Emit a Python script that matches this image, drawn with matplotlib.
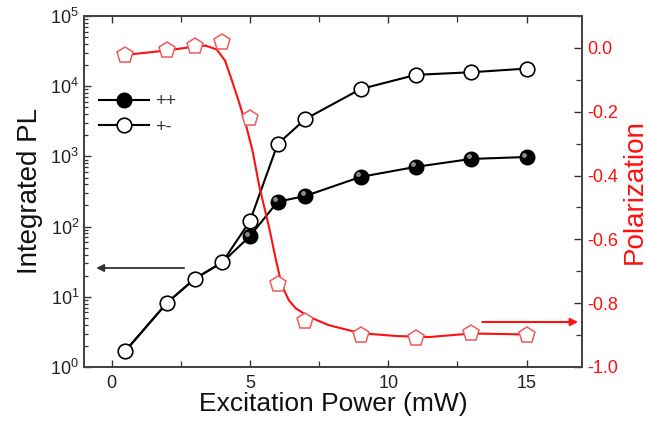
import matplotlib
matplotlib.use('Agg')
import matplotlib.pyplot as plt
import matplotlib.transforms as mtransforms
from matplotlib.lines import Line2D
from matplotlib.ticker import MultipleLocator, LogLocator, NullFormatter

plt.rcParams['font.family'] = ['Liberation Sans', 'DejaVu Sans']
plt.rcParams['mathtext.default'] = 'regular'

# ---- data ----
power = [0.5, 2, 3, 4, 5, 6, 7, 9, 11, 13, 15]
pl_pp = [1.7, 8.2, 18, 31, 73, 226, 273, 510, 710, 920, 980]
pl_pm = [1.7, 8.2, 18, 31, 120, 1500, 3400, 9100, 14500, 15800, 17800]
polarization = [-0.022, -0.008, 0.005, 0.018, -0.22, -0.74, -0.857,
                -0.90, -0.91, -0.894, -0.899]
# fitted polarization curve
fit_power = [0.5, 2, 3, 3.4, 3.8, 4.1, 4.3, 4.6, 4.85, 5.1, 5.33, 5.7,
             5.95, 6.15, 6.4, 6.65, 7.0, 7.25, 7.85, 9.0, 10.3, 11.5, 13, 15]
fit_pol = [-0.022, -0.008, 0.004, 0.007, -0.005, -0.04, -0.09, -0.169,
           -0.24, -0.325, -0.431, -0.566, -0.669, -0.744, -0.79, -0.816,
           -0.835, -0.847, -0.869, -0.894, -0.903, -0.906, -0.895, -0.898]
legend_labels = ['++', '+-']
xlabel = 'Excitation Power (mW)'
ylabel_left = 'Integrated PL'
ylabel_right = 'Polarization'

RED = '#ff1010'
PENT = '#f05a5a'
AX = '#333333'

fig = plt.figure(figsize=(6.49, 4.26), dpi=100)
ax = fig.add_axes([0.1294, 0.1385, 0.7673, 0.824])
ax2 = ax.twinx()

# black series
ax.plot(power, pl_pp, '-', color='black', lw=1.5, zorder=2)
ax.plot(power, pl_pm, '-', color='black', lw=1.5, zorder=2)
ax.plot(power[4:], pl_pp[4:], 'o', ms=10.5, mfc='black', mec='black', zorder=3)
hl = ax.transData + mtransforms.ScaledTranslation(-1.8/72, 1.8/72, fig.dpi_scale_trans)
ax.plot(power[4:], pl_pp[4:], 'o', ms=3.5, mfc='#9a9a9a', mec='none', alpha=0.9,
        transform=hl, zorder=4)
ax.plot(power, pl_pm, 'o', ms=10.5, mfc='white', mec='black', mew=1.2, zorder=5)

# polarization
ax2.plot(fit_power, fit_pol, '-', color=RED, lw=1.5, zorder=2)
ax2.plot(power, polarization, 'p', ms=12, mfc='white', mec=PENT, mew=1.1, zorder=3)

ax.set_xlim(-1, 17)
ax.set_yscale('log')
ax.set_ylim(1, 1e5)
ax2.set_ylim(-1.0, 0.1)

ax.xaxis.set_major_locator(MultipleLocator(5))
ax.xaxis.set_minor_locator(MultipleLocator(2.5))
ax.yaxis.set_major_locator(LogLocator(base=10, numticks=10))
ax.yaxis.set_minor_locator(LogLocator(base=10, subs=range(2, 10), numticks=20))
ax.yaxis.set_minor_formatter(NullFormatter())
ax2.yaxis.set_major_locator(MultipleLocator(0.2))
ax2.yaxis.set_minor_locator(MultipleLocator(0.1))
ax2.yaxis.set_major_formatter(matplotlib.ticker.FuncFormatter(lambda v, p: f'{v:.1f}'))

ax.tick_params(which='both', direction='in', top=True, right=False, colors=AX,
               labelsize=13, labelcolor='#222222')
ax.tick_params(which='major', length=5, width=1.0)
ax.tick_params(which='minor', length=3, width=0.9)
ax.tick_params(axis='x', which='minor', length=4)
ax.tick_params(axis='x', pad=6)
ax2.tick_params(which='both', direction='in', colors=AX, labelsize=13, labelcolor=RED)
ax2.tick_params(which='major', length=6, width=1.0)
ax2.tick_params(which='minor', length=4, width=0.9)

for a in (ax, ax2):
    for s in a.spines.values():
        s.set_color('#444444')
        s.set_linewidth(1.4)

ax.set_xlabel(xlabel, fontsize=19, color='#111111', labelpad=0)
ax.set_ylabel(ylabel_left, fontsize=20, color='#111111', labelpad=5)
ax2.set_ylabel(ylabel_right, fontsize=20, color=RED, labelpad=3)

# arrows pointing to the relevant axes
ax.annotate('', xy=(-0.56, 25.7), xytext=(2.62, 25.7),
            arrowprops=dict(arrowstyle='-|>', color='#333333', lw=1.3,
                            mutation_scale=11, shrinkA=0, shrinkB=0))
ax2.annotate('', xy=(16.86, -0.859), xytext=(13.4, -0.859),
             arrowprops=dict(arrowstyle='-|>', color=RED, lw=1.5,
                             mutation_scale=11, shrinkA=0, shrinkB=0))

handles = [
    Line2D([], [], color='black', lw=1.5, marker='o', ms=10.5, mfc='black', mec='black'),
    Line2D([], [], color='black', lw=1.5, marker='o', ms=10.5, mfc='white', mec='black', mew=1.2),
]
leg = ax.legend(handles, legend_labels, loc='upper left', bbox_to_anchor=(0.015, 0.8),
                frameon=False, fontsize=13, handlelength=2.8, handletextpad=0.3,
                labelspacing=0.45, borderaxespad=0)
for t in leg.get_texts():
    t.set_color('#333333')

fig.savefig('out.png', dpi=100)
